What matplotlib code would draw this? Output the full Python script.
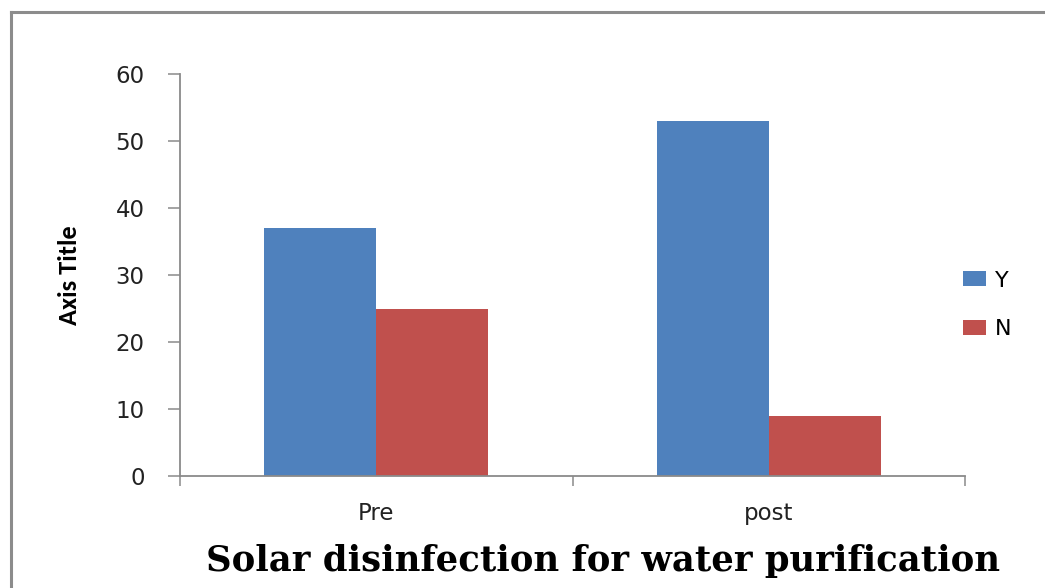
import matplotlib.pyplot as plt
import numpy as np
from matplotlib.lines import Line2D

categories = ["Pre", "post"]
series_names = ["Y", "N"]
y_values = [37, 53]
n_values = [25, 9]
colors = ["#4F81BD", "#C0504D"]

W, H = 1045, 588


def main() -> None:
    fig = plt.figure(figsize=(W / 100, H / 100), dpi=100)
    fig.patch.set_facecolor("white")

    ax = fig.add_axes([180 / W, (H - 476) / H, (965 - 180) / W, (476 - 74) / H])

    x = np.arange(len(categories))
    bw = 1 / 3.5
    ax.bar(x - bw / 2, y_values, bw, color=colors[0], label=series_names[0])
    ax.bar(x + bw / 2, n_values, bw, color=colors[1], label=series_names[1])

    ax.set_xlim(-0.5, len(categories) - 0.5)
    ax.set_ylim(0, 60)
    ax.set_yticks(range(0, 61, 10))
    ax.set_xticks(np.arange(-0.5, len(categories), 1.0))
    ax.set_xticklabels([])
    ax.set_xticks(x, minor=True)
    ax.set_xticklabels(categories, minor=True, fontsize=16.5, color="#222222")

    spine_c = "#8a8a8a"
    for s in ("top", "right"):
        ax.spines[s].set_visible(False)
    for s in ("left", "bottom"):
        ax.spines[s].set_color(spine_c)
        ax.spines[s].set_linewidth(1.3)
    ax.tick_params(axis="y", direction="out", length=8.5, width=1.1, color=spine_c,
                   pad=17, labelsize=16.5, labelcolor="#222222")
    ax.tick_params(axis="x", which="major", direction="out", length=7, width=1.1,
                   color=spine_c)
    ax.tick_params(axis="x", which="minor", length=0, pad=19)

    ax.set_ylabel("Axis Title", family=["Carlito", "DejaVu Sans"],
                  fontweight="bold", fontsize=19)
    ax.yaxis.set_label_coords(-99 / (965 - 180), 0.5)

    ax.legend(loc="center left", bbox_to_anchor=(954 / W, (H - 305) / H),
              bbox_transform=fig.transFigure, frameon=False, fontsize=16,
              borderaxespad=0, handlelength=1.05, handleheight=0.68,
              labelspacing=1.3, handletextpad=0.4)

    fig.text(603 / W, (H - 561) / H, "Solar disinfection for water purification",
             family="DejaVu Serif", fontweight="bold", fontsize=25.5,
             ha="center", va="center")

    frame_c = "#8c8c8c"
    fig.add_artist(Line2D([11 / W, 11 / W], [0, (H - 12) / H], color=frame_c,
                          linewidth=2.2, transform=fig.transFigure))
    fig.add_artist(Line2D([11 / W, 1], [(H - 12) / H, (H - 12) / H], color=frame_c,
                          linewidth=2.2, transform=fig.transFigure))

    fig.savefig("out.png", dpi=100)
    plt.close(fig)


if __name__ == "__main__":
    main()
